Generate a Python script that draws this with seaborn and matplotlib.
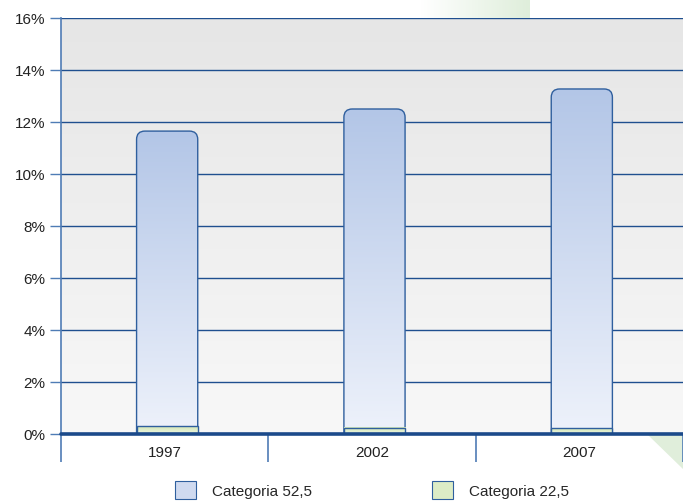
import numpy as np
import pandas as pd
import seaborn as sns
import matplotlib.pyplot as plt
from matplotlib.patches import FancyBboxPatch, Rectangle, Polygon
from matplotlib.colors import LinearSegmentedColormap
from matplotlib.ticker import FixedLocator, FuncFormatter

# Values (percent)
years = ["1997", "2002", "2007"]
cat_52 = [11.35, 12.25, 13.05]
cat_22 = [0.30, 0.25, 0.22]
labels = ["Categoria 52,5", "Categoria 22,5"]

df = pd.DataFrame({"year": years, "c52": cat_52, "c22": cat_22})
df["total"] = df["c52"] + df["c22"]

sns.set_style("white")
plt.rcParams["font.family"] = ["Liberation Sans Narrow", "Liberation Sans", "DejaVu Sans"]

edge = "#2f5f9e"
grid_col = "#1f4f8f"
blue_cmap = LinearSegmentedColormap.from_list("b", ["#eef2fb", "#b3c6e7"])
green_cmap = LinearSegmentedColormap.from_list("g", ["#eef6e2", "#d3e7b6"])
bg_cmap = LinearSegmentedColormap.from_list("bg", ["#f8f8f8", "#e6e6e6"])

W, H = 683, 502
fig = plt.figure(figsize=(W / 100, H / 100), dpi=100)
ax = fig.add_axes([61 / W, 1 - 435 / H, 1 - 61 / W, 416 / H])

# faint green watermark pieces (an arrow sitting behind the plot)
wm = LinearSegmentedColormap.from_list("wm", ["#ffffff", "#dfeedb"])
wm_ax = fig.add_axes([0, 0, 1, 1], zorder=-10)
wm_ax.imshow(np.linspace(0, 1, 64).reshape(1, -1), cmap=wm, aspect="auto",
             extent=[420, 530, 19, 0])
wm_ax.add_patch(Polygon([[648, 436], [W, 436], [W, 470]], closed=True,
                        facecolor="#e0eedb", edgecolor="none"))
wm_ax.set_xlim(0, W)
wm_ax.set_ylim(H, 0)
wm_ax.axis("off")

# bars through seaborn
sns.barplot(data=df, x="year", y="total", color="#b3c6e7", width=0.295, ax=ax)
blue = list(ax.patches)
sns.barplot(data=df, x="year", y="c22", color="#d3e7b6", width=0.295, ax=ax)
green = list(ax.patches)[len(blue):]

# gradient background
ax.imshow(np.linspace(0, 1, 256).reshape(-1, 1), cmap=bg_cmap, origin="lower",
          extent=[0, 1, 0, 1], transform=ax.transAxes, aspect="auto", zorder=0)

grad = np.linspace(0, 1, 256).reshape(-1, 1)
for p in blue:
    x, w, h = p.get_x() + 0.012, p.get_width(), p.get_height()
    p.set_visible(False)
    box = FancyBboxPatch((x, -1), w, h + 1,
                         boxstyle="round,pad=0,rounding_size=0.04",
                         mutation_aspect=8.0, facecolor="none",
                         edgecolor=edge, linewidth=1.0, zorder=4)
    ax.add_patch(box)
    im = ax.imshow(grad, cmap=blue_cmap, origin="lower", aspect="auto",
                   extent=[x, x + w, 0, h], zorder=3)
    im.set_clip_path(box)
for p in green:
    x, w, h = p.get_x() + 0.012, p.get_width(), p.get_height()
    p.set_visible(False)
    ax.imshow(grad, cmap=green_cmap, origin="lower", aspect="auto",
              extent=[x, x + w, 0, h], zorder=5)
    ax.add_patch(Rectangle((x, 0), w, h, facecolor="none", edgecolor=edge,
                           linewidth=1.0, zorder=6))

ax.set_xlim(-0.5, 2.5)
ax.set_ylim(0, 16)

# grid lines
for y in range(2, 17, 2):
    ax.axhline(y, color=grid_col, linewidth=1.0, zorder=2)
ax.axhline(0, color="#1b4a8a", linewidth=2.6, zorder=7, clip_on=False)

ax.set_yticks(range(0, 17, 2))
ax.yaxis.set_major_formatter(FuncFormatter(lambda v, _: f"{v:.0f}%"))
ax.tick_params(axis="y", length=8, width=1, color="#4f7cb5", labelsize=11,
               labelcolor="#222222", pad=3, left=True)
ax.tick_params(axis="x", which="major", length=0, labelsize=11,
               labelcolor="#222222", pad=8)
ax.xaxis.set_minor_locator(FixedLocator([-0.5, 0.5, 1.5, 2.5]))
ax.tick_params(axis="x", which="minor", length=20, width=1.2, color="#4f7cb5",
               bottom=True)
ax.set_xlabel("")
ax.set_ylabel("")

for s in ["top", "right", "bottom"]:
    ax.spines[s].set_visible(False)
ax.spines["left"].set_color("#4f7cb5")
ax.spines["left"].set_linewidth(1.2)

# legend
handles = [Rectangle((0, 0), 1, 1, facecolor="#cfdaf0", edgecolor=edge, linewidth=0.8),
           Rectangle((0, 0), 1, 1, facecolor="#dcecc6", edgecolor=edge, linewidth=0.8)]
fig.legend(handles, labels, loc="center left", bbox_to_anchor=(175 / W, 11 / H), ncol=2,
           frameon=False, fontsize=11, handlelength=1.4, handleheight=1.4,
           columnspacing=7.8, handletextpad=1.05, borderpad=0, borderaxespad=0)

fig.savefig("out.png", dpi=100)
